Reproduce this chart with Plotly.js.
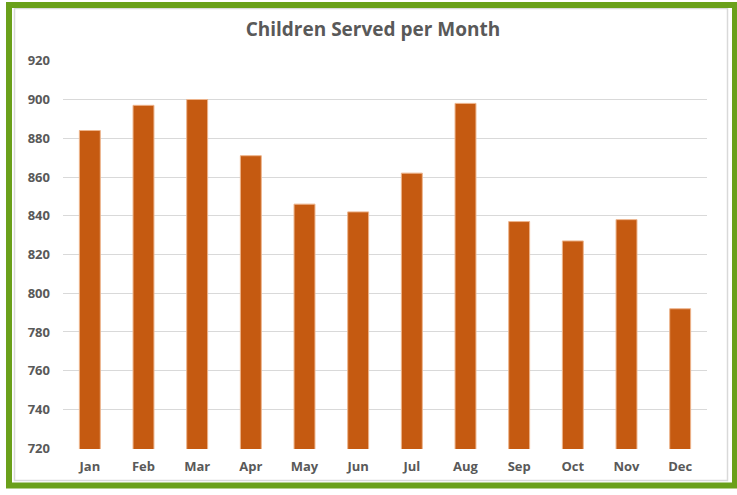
<!DOCTYPE html>
<html>
<head>
<meta charset="utf-8">
<script src="https://cdn.plot.ly/plotly-3.0.1.min.js"></script>
<style>
html,body{margin:0;padding:0;background:#fff;}
#chart{width:737px;height:495px;}
</style>
</head>
<body>
<div id="chart"></div>
<script>
const months = ["Jan","Feb","Mar","Apr","May","Jun","Jul","Aug","Sep","Oct","Nov","Dec"];
const childrenServed = [884, 897, 900, 871, 846, 842, 862, 898, 837, 827, 838, 792];
const yTicks = [720, 740, 760, 780, 800, 820, 840, 860, 880, 900, 920];

const W = 737, H = 495;
const mL = 63, mR = 30, mT = 60, mB = 46;
const pw = W - mL - mR, ph = H - mT - mB;
const px = x => (x - mL) / pw;
const py = y => (H - mB - y) / ph;

const trace = {
  type: 'bar',
  x: months,
  y: childrenServed,
  marker: {color: '#C55A11', line: {color: '#EDB48C', width: 1}},
  hoverinfo: 'x+y'
};

const layout = {
  width: W, height: H,
  margin: {l: mL, r: mR, t: mT, b: mB},
  paper_bgcolor: '#ffffff',
  plot_bgcolor: '#ffffff',
  showlegend: false,
  bargap: 0.61,
  title: {
    text: 'Children Served per Month',
    font: {family: 'Open Sans, sans-serif', size: 19, color: '#595959', weight: 'bold'},
    x: 0.506, xanchor: 'center', y: 0.94, yanchor: 'middle'
  },
  xaxis: {
    type: 'category',
    showgrid: false,
    showline: false,
    ticks: '',
    ticklabelstandoff: 8,
    tickfont: {family: 'Open Sans, sans-serif', size: 13, color: '#595959', weight: 'bold'}
  },
  yaxis: {
    range: [719.6, 920.4],
    tickvals: yTicks,
    ticktext: yTicks.map(String),
    showgrid: true,
    gridcolor: '#D9D9D9',
    gridwidth: 1,
    zeroline: false,
    showline: false,
    ticks: '',
    ticklabelstandoff: 12,
    tickfont: {family: 'Open Sans, sans-serif', size: 13, color: '#595959', weight: 'bold'}
  },
  shapes: [
    {type: 'rect', xref: 'paper', yref: 'paper',
     x0: px(14.5), x1: px(727.5), y0: py(480.5), y1: py(8.5),
     line: {color: '#D9D9D9', width: 1.5}, layer: 'below'},
    {type: 'rect', xref: 'paper', yref: 'paper',
     x0: px(9), x1: px(735), y0: py(485.5), y1: py(5),
     line: {color: '#6AA01A', width: 6}, layer: 'above'}
  ]
};

Plotly.newPlot('chart', [trace], layout, {displayModeBar: false, staticPlot: true});
</script>
</body>
</html>
